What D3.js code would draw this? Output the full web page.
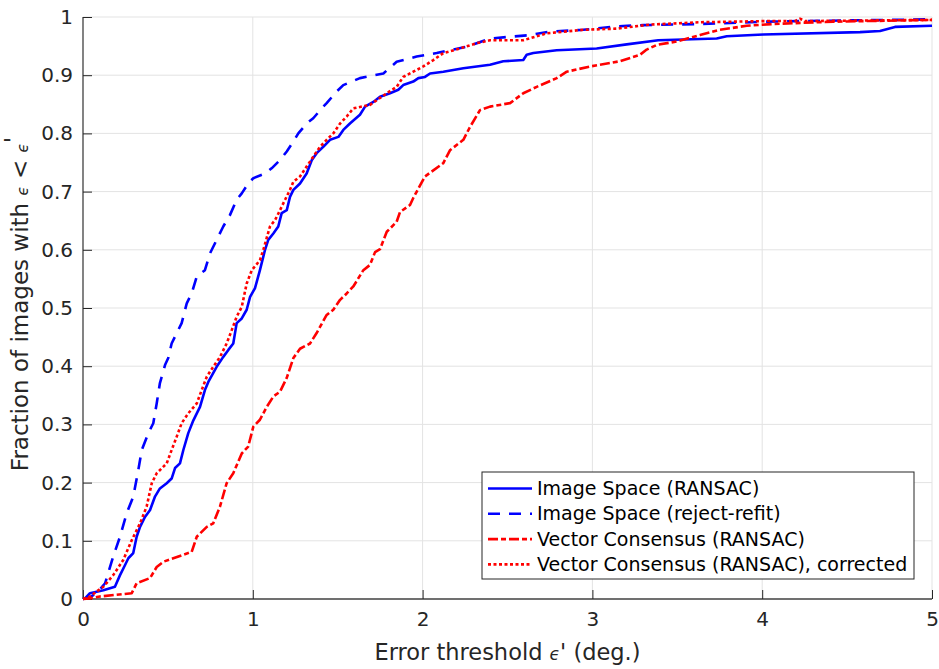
<!DOCTYPE html>
<html>
<head>
<meta charset="utf-8">
<script src="https://cdn.jsdelivr.net/npm/d3@7/dist/d3.min.js"></script>
<style>
  body { margin: 0; background: #fff; }
  text { font-family: 'DejaVu Sans', sans-serif; fill: #262626; }
</style>
</head>
<body>
<div id="chart"></div>
<script>
// CDF curves: [error threshold (deg.), fraction]
let imageRansac = [
  [0, 0], [0.012, 0.001], [0.041, 0.010], [0.120, 0.015], [0.188, 0.021], [0.218, 0.041],
  [0.247, 0.058], [0.267, 0.070], [0.296, 0.079], [0.316, 0.107], [0.336, 0.124],
  [0.365, 0.141], [0.395, 0.153], [0.424, 0.176], [0.453, 0.190], [0.493, 0.199],
  [0.522, 0.207], [0.542, 0.225], [0.571, 0.233], [0.591, 0.256], [0.620, 0.285],
  [0.650, 0.307], [0.689, 0.330], [0.718, 0.359], [0.738, 0.373], [0.787, 0.399],
  [0.826, 0.416], [0.856, 0.428], [0.885, 0.439], [0.905, 0.474], [0.935, 0.482],
  [0.964, 0.497], [0.984, 0.519], [1.013, 0.534], [1.042, 0.565], [1.072, 0.600],
  [1.091, 0.617], [1.121, 0.628], [1.150, 0.640], [1.170, 0.663], [1.200, 0.668],
  [1.219, 0.691], [1.239, 0.703], [1.278, 0.714], [1.317, 0.731], [1.347, 0.754],
  [1.376, 0.766], [1.415, 0.777], [1.455, 0.789], [1.504, 0.794], [1.533, 0.806],
  [1.572, 0.817], [1.631, 0.832], [1.661, 0.846], [1.710, 0.854], [1.749, 0.863],
  [1.808, 0.869], [1.857, 0.875], [1.886, 0.883], [1.945, 0.889], [1.975, 0.895],
  [2.014, 0.897], [2.044, 0.903], [2.122, 0.906], [2.240, 0.912], [2.397, 0.918],
  [2.475, 0.924], [2.593, 0.926], [2.613, 0.935], [2.652, 0.938], [2.790, 0.943],
  [3.025, 0.946], [3.202, 0.953], [3.388, 0.960], [3.732, 0.963], [3.791, 0.967],
  [4.006, 0.970], [4.576, 0.974], [4.694, 0.976], [4.782, 0.983], [5.0, 0.985]
]

let imageRefit = [
  [0, 0], [0.040, 0.003], [0.081, 0.010], [0.130, 0.027], [0.178, 0.073], [0.218, 0.107],
  [0.257, 0.147], [0.296, 0.176], [0.326, 0.222], [0.346, 0.256], [0.385, 0.285],
  [0.414, 0.302], [0.434, 0.336], [0.453, 0.371], [0.483, 0.402], [0.502, 0.414],
  [0.522, 0.439], [0.542, 0.451], [0.581, 0.474], [0.611, 0.508], [0.640, 0.525],
  [0.670, 0.554], [0.718, 0.565], [0.748, 0.594], [0.787, 0.617], [0.826, 0.640],
  [0.866, 0.660], [0.905, 0.686], [0.935, 0.697], [0.973, 0.714], [1.003, 0.723],
  [1.072, 0.731], [1.111, 0.740], [1.160, 0.754], [1.200, 0.769], [1.239, 0.786],
  [1.268, 0.800], [1.317, 0.817], [1.356, 0.826], [1.406, 0.843], [1.435, 0.852],
  [1.494, 0.872], [1.533, 0.883], [1.631, 0.895], [1.769, 0.903], [1.847, 0.923],
  [1.965, 0.932], [2.083, 0.938], [2.161, 0.943], [2.260, 0.949], [2.397, 0.963],
  [2.633, 0.969], [2.750, 0.975], [2.946, 0.978], [3.143, 0.984], [3.298, 0.986],
  [3.634, 0.988], [3.751, 0.989], [4.026, 0.992], [4.223, 0.993], [5.0, 0.996]
]

let vcRansac = [
  [0, 0], [0.041, 0.001], [0.090, 0.004], [0.287, 0.010], [0.316, 0.027], [0.395, 0.036],
  [0.434, 0.055], [0.473, 0.064], [0.532, 0.070], [0.640, 0.081], [0.670, 0.107],
  [0.729, 0.124], [0.767, 0.130], [0.807, 0.159], [0.846, 0.199], [0.885, 0.216],
  [0.935, 0.250], [0.973, 0.262], [1.003, 0.296], [1.042, 0.308], [1.082, 0.330],
  [1.121, 0.348], [1.160, 0.356], [1.200, 0.380], [1.239, 0.414], [1.278, 0.430],
  [1.337, 0.439], [1.376, 0.457], [1.435, 0.488], [1.474, 0.497], [1.514, 0.514],
  [1.553, 0.525], [1.592, 0.537], [1.651, 0.565], [1.690, 0.574], [1.720, 0.596],
  [1.749, 0.601], [1.789, 0.631], [1.847, 0.648], [1.867, 0.665], [1.926, 0.677],
  [1.945, 0.689], [2.014, 0.726], [2.122, 0.749], [2.161, 0.771], [2.240, 0.789],
  [2.279, 0.811], [2.338, 0.840], [2.397, 0.846], [2.515, 0.852], [2.593, 0.869],
  [2.672, 0.880], [2.790, 0.895], [2.849, 0.906], [2.986, 0.915], [3.163, 0.924],
  [3.280, 0.935], [3.320, 0.944], [3.379, 0.952], [3.497, 0.958], [3.634, 0.969],
  [3.751, 0.978], [3.909, 0.985], [4.065, 0.988], [4.419, 0.992], [5.0, 0.995]
]

let vcCorrected = [
  [0, 0], [0.040, 0.004], [0.081, 0.013], [0.120, 0.021], [0.178, 0.041], [0.237, 0.067],
  [0.287, 0.101], [0.336, 0.130], [0.375, 0.159], [0.405, 0.199], [0.434, 0.216],
  [0.493, 0.233], [0.522, 0.256], [0.552, 0.279], [0.581, 0.302], [0.620, 0.319],
  [0.670, 0.336], [0.699, 0.359], [0.729, 0.382], [0.767, 0.399], [0.807, 0.416],
  [0.846, 0.439], [0.876, 0.462], [0.905, 0.485], [0.935, 0.502], [0.964, 0.542],
  [0.994, 0.565], [1.042, 0.582], [1.062, 0.600], [1.101, 0.640], [1.131, 0.651],
  [1.160, 0.668], [1.190, 0.686], [1.219, 0.703], [1.239, 0.717], [1.278, 0.726],
  [1.317, 0.743], [1.356, 0.760], [1.396, 0.777], [1.435, 0.789], [1.474, 0.800],
  [1.514, 0.817], [1.553, 0.829], [1.592, 0.843], [1.690, 0.849], [1.789, 0.869],
  [1.847, 0.880], [1.886, 0.897], [1.945, 0.906], [2.004, 0.915], [2.063, 0.926],
  [2.122, 0.938], [2.220, 0.946], [2.319, 0.955], [2.397, 0.960], [2.593, 0.960],
  [2.731, 0.972], [2.946, 0.978], [3.143, 0.980], [3.339, 0.987], [3.634, 0.991],
  [4.026, 0.993], [4.193, 0.993], [4.223, 0.997], [4.252, 0.993], [5.0, 0.995]
]

let xTicks = [0, 1, 2, 3, 4, 5]
let yTicks = [0, 0.1, 0.2, 0.3, 0.4, 0.5, 0.6, 0.7, 0.8, 0.9, 1]

let seriesNames = [
  'Image Space (RANSAC)',
  'Image Space (reject-refit)',
  'Vector Consensus (RANSAC)',
  'Vector Consensus (RANSAC), corrected'
]
let seriesData = [imageRansac, imageRefit, vcRansac, vcCorrected]
let seriesColors = ['#0000ff', '#0000ff', '#ff0000', '#ff0000']
let seriesDash = ['none', '12,9', '10,3,5,3', '3,2.5']

// layout
let width = 939
let height = 669
let margin = { left: 83, right: 7, top: 17, bottom: 70 }

let svg = d3.select('#chart')
  .append('svg')
  .attr('width', width)
  .attr('height', height)

let xScale = d3.scaleLinear()
  .domain([0, 5])
  .range([margin.left, width - margin.right])

let yScale = d3.scaleLinear()
  .domain([0, 1])
  .range([height - margin.bottom, margin.top])

// grid
let grid = svg.append('g').attr('id', 'grid')
grid.selectAll('line.gx')
  .data(xTicks.slice(1))
  .enter()
  .append('line')
  .attr('x1', d => xScale(d))
  .attr('x2', d => xScale(d))
  .attr('y1', yScale(0))
  .attr('y2', yScale(1))
  .attr('stroke', '#e3e3e3')
  .attr('stroke-width', 1)
grid.selectAll('line.gy')
  .data(yTicks.slice(1))
  .enter()
  .append('line')
  .attr('x1', xScale(0))
  .attr('x2', xScale(5))
  .attr('y1', d => yScale(d))
  .attr('y2', d => yScale(d))
  .attr('stroke', '#e3e3e3')
  .attr('stroke-width', 1)

// axes
let xAxis = svg.append('g')
  .attr('transform', 'translate(0,' + yScale(0) + ')')
  .call(d3.axisBottom(xScale).tickValues(xTicks).tickSize(-9).tickPadding(13).tickFormat(d3.format('d')))
let yAxis = svg.append('g')
  .attr('transform', 'translate(' + xScale(0) + ',0)')
  .call(d3.axisLeft(yScale).tickValues(yTicks).tickSize(-9).tickPadding(10).tickFormat(d => d === 0 || d === 1 ? d3.format('d')(d) : d3.format('.1f')(d)))

for (let ax of [xAxis, yAxis]) {
  ax.select('.domain').attr('stroke', '#404040').attr('stroke-width', 1.3)
  ax.selectAll('.tick line').attr('stroke', '#262626').attr('stroke-width', 1)
  ax.selectAll('.tick text')
    .attr('font-family', 'DejaVu Sans, sans-serif')
    .attr('font-size', 20)
    .attr('fill', '#262626')
}
xAxis.selectAll('.tick text').attr('dy', '0.71em')
yAxis.select('.domain').attr('d', 'M0,' + yScale(0) + 'V' + yScale(1))
xAxis.select('.domain').attr('d', 'M' + xScale(0) + ',0H' + xScale(5))

// curves
let line = d3.line()
  .x(d => xScale(d[0]))
  .y(d => yScale(d[1]))

let plot = svg.append('g').attr('id', 'curves')
seriesData.forEach(function (data, i) {
  plot.append('path')
    .datum(data)
    .attr('fill', 'none')
    .attr('stroke', seriesColors[i])
    .attr('stroke-width', 2.6)
    .attr('stroke-dasharray', seriesDash[i])
    .attr('stroke-linejoin', 'round')
    .attr('d', line)
})

// axis titles
svg.append('text')
  .attr('x', (xScale(0) + xScale(5)) / 2)
  .attr('y', 660)
  .attr('text-anchor', 'middle')
  .attr('font-size', 22.5)
  .call(t => {
    t.append('tspan').text('Error threshold ')
    t.append('tspan').attr('font-size', 17).attr('font-style', 'italic').text('ϵ')
    t.append('tspan').text("' (deg.)")
  })

svg.append('text')
  .attr('transform', 'translate(28,' + 304 + ') rotate(-90)')
  .attr('text-anchor', 'middle')
  .attr('font-size', 23)
  .call(t => {
    t.append('tspan').text('Fraction of images with ')
    t.append('tspan').attr('font-size', 15).attr('font-style', 'italic').text('ϵ')
    t.append('tspan').text(' < ')
    t.append('tspan').attr('font-size', 15).attr('font-style', 'italic').text('ϵ')
    t.append('tspan').attr('dy', -7).text("'")
  })

// legend
let legend = svg.append('g').attr('transform', 'translate(482,472)')
legend.append('rect')
  .attr('width', 432)
  .attr('height', 107)
  .attr('fill', '#fff')
  .attr('stroke', '#262626')
  .attr('stroke-width', 1)

seriesNames.forEach(function (name, i) {
  let yy = 16.5 + i * 25.3
  legend.append('line')
    .attr('x1', 6)
    .attr('x2', 50)
    .attr('y1', yy)
    .attr('y2', yy)
    .attr('stroke', seriesColors[i])
    .attr('stroke-width', 2.6)
    .attr('stroke-dasharray', seriesDash[i])
  legend.append('text')
    .attr('x', 55)
    .attr('y', yy)
    .attr('dy', '0.35em')
    .attr('font-size', 19)
    .style('fill', '#000')
    .text(name)
})
</script>
</body>
</html>
